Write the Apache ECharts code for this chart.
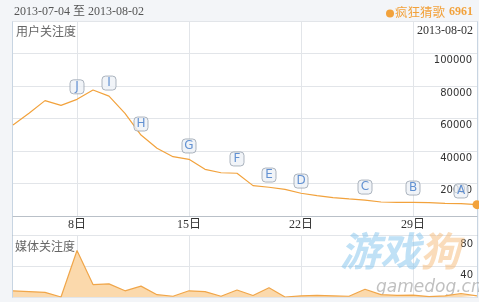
<!DOCTYPE html>
<html><head><meta charset="utf-8">
<script src="https://cdn.jsdelivr.net/npm/echarts@6/dist/echarts.min.js"></script>
<style>html,body{margin:0;padding:0;background:#f3f5f8}#c{width:479px;height:302px}</style>
</head><body><div id="c"></div>
<script>
var dates = ['07-04','07-05','07-06','07-07','07-08','07-09','07-10','07-11','07-12','07-13','07-14','07-15','07-16','07-17','07-18','07-19','07-20','07-21','07-22','07-23','07-24','07-25','07-26','07-27','07-28','07-29','07-30','07-31','08-01','08-02'];
var userAttention = [56000,63200,71000,68100,71800,77500,73800,63200,49800,41700,36500,34900,28700,26600,26300,18700,17700,16400,14000,12500,11300,10500,9800,8600,8400,8400,8200,7800,7600,6961];
var mediaAttention = [8,7,6,0,60,16,17,8,14,3,1,8,7,1,9,2,12,0,1.5,2,1.5,1,10,3,2,2.5,0.5,1.5,4.5,1.5];
var eventLetters = ['J','I','H','G','F','E','D','C','B','A'];
var eventDates = ['07-08','07-10','07-12','07-15','07-18','07-20','07-22','07-26','07-29','08-01'];
var eventLevels = [79500,81800,56600,43100,35100,25200,21500,17800,17200,15400];
var userTicks = [0,20000,40000,60000,80000,100000,120000];
var mediaTicks = [0,40,80];
var dayTicks = [8,15,22,29];

function isTick(i){ var d = parseInt(dates[i].split('-')[1],10); return dayTicks.indexOf(d) >= 0 && dates[i].indexOf('07-')===0; }

var chart = echarts.init(document.getElementById('c'), null, {renderer:'canvas'});
var orange = '#f2a23c';
var serif = '"Liberation Serif","Noto Sans CJK SC",serif';
var cjk = '"Noto Sans CJK SC",sans-serif';
chart.setOption({
  backgroundColor: '#f3f5f8',
  animation: false,
  graphic: [
    {type:'rect', z:-100, shape:{x:12.5,y:21.5,width:465,height:276}, style:{fill:'#fff', stroke:'#c8d5e2', lineWidth:1}},
    {type:'line', z:-90, shape:{x1:12.5,y1:235.5,x2:477.5,y2:235.5}, style:{stroke:'#b9c0c8', lineWidth:1}},
    {type:'text', left:14, top:6, style:{text:'2013-07-04 至 2013-08-02', font:'12px '+serif, fill:'#555'}},
    {type:'circle', shape:{cx:390, cy:13.5, r:4}, style:{fill:orange}},
    {type:'text', left:395, top:6, style:{text:'疯狂猜歌', font:'12.5px '+cjk, fill:orange}},
    {type:'text', left:449, top:6, style:{text:'6961', font:'bold 12px '+serif, fill:orange}},
    {type:'text', left:16, top:25, style:{text:'用户关注度', font:'12px '+cjk, fill:'#666'}},
    {type:'text', right:6, top:25, style:{text:'2013-08-02', font:'12px '+serif, fill:'#333'}},
    {type:'text', left:15, top:240, style:{text:'媒体关注度', font:'12px '+cjk, fill:'#666'}},
    {type:'text', left:340, top:231, z:1, style:{text:'游戏', font:'bold italic 40px '+cjk, fill:'rgba(130,195,238,0.5)'}},
    {type:'text', left:420, top:231, z:1, style:{text:'狗', font:'bold italic 40px '+cjk, fill:'rgba(245,185,120,0.5)'}},
    {type:'text', left:376, top:279, z:1, style:{text:'gamedog.cn', font:'italic 17px "DejaVu Sans",sans-serif', fill:'rgba(150,150,150,0.6)'}}
  ],
  grid: [
    {left:13, right:2, top:21, height:195},
    {left:13, right:2, top:235, height:62}
  ],
  xAxis: [
    {type:'category', gridIndex:0, data:dates, boundaryGap:false,
     axisLine:{lineStyle:{color:'#b9c0c8'}}, axisTick:{show:false},
     axisLabel:{interval:function(i){return isTick(i);}, formatter:function(v){return parseInt(v.split('-')[1],10)+'日';}, margin:3, fontSize:12, fontFamily:serif, color:'#333'},
     splitLine:{show:true, interval:function(i){return isTick(i);}, lineStyle:{color:'#e2e5e9'}}},
    {type:'category', gridIndex:1, data:dates, boundaryGap:false,
     axisLine:{show:false}, axisTick:{show:false}, axisLabel:{show:false},
     splitLine:{show:true, interval:function(i){return isTick(i);}, lineStyle:{color:'#e2e5e9'}}}
  ],
  yAxis: [
    {type:'value', gridIndex:0, position:'right', min:userTicks[0], max:userTicks[userTicks.length-1], interval:userTicks[1]-userTicks[0],
     axisLine:{show:false}, axisTick:{show:false},
     axisLabel:{inside:true, showMinLabel:false, showMaxLabel:false, verticalAlign:'top', margin:5, padding:[2,0,0,0], fontSize:10, fontFamily:'"DejaVu Sans",sans-serif', color:'#333', formatter:function(v){return String(v);}},
     splitLine:{lineStyle:{color:'#e2e5e9'}}},
    {type:'value', gridIndex:1, position:'right', min:mediaTicks[0], max:mediaTicks[mediaTicks.length-1], interval:mediaTicks[1]-mediaTicks[0],
     axisLine:{show:false}, axisTick:{show:false},
     axisLabel:{inside:true, showMinLabel:false, showMaxLabel:true, verticalAlign:'top', margin:4, padding:[4,0,0,0], fontSize:10, fontFamily:'"DejaVu Sans",sans-serif', color:'#333', formatter:function(v){return String(v);}},
     splitLine:{lineStyle:{color:'#e2e5e9'}}}
  ],
  series: [
    {type:'line', xAxisIndex:0, yAxisIndex:0, data:userAttention, symbol:'none', z:3,
     lineStyle:{color:orange, width:1.2},
     markPoint:{symbol:'circle', symbolSize:9, itemStyle:{color:orange}, label:{show:false},
       data:[{coord:[dates[dates.length-1], userAttention[userAttention.length-1]]}]}},
    {type:'scatter', xAxisIndex:0, yAxisIndex:0, z:4,
     data:eventDates.map(function(d,i){return {value:[d, eventLevels[i]], name:eventLetters[i]};}),
     symbol:'roundRect', symbolSize:[14,14],
     itemStyle:{color:'#edf1f6', borderColor:'#98a3af', borderWidth:1},
     label:{show:true, position:'inside', formatter:function(p){return p.name;}, color:'#3f78c8', fontSize:12, fontFamily:'"DejaVu Sans",sans-serif'}},
    {type:'line', xAxisIndex:1, yAxisIndex:1, data:mediaAttention, symbol:'none', z:3,
     lineStyle:{color:'#f0a64a', width:1.2},
     areaStyle:{color:'#fbd9ac', opacity:1}}
  ]
});
</script></body></html>
